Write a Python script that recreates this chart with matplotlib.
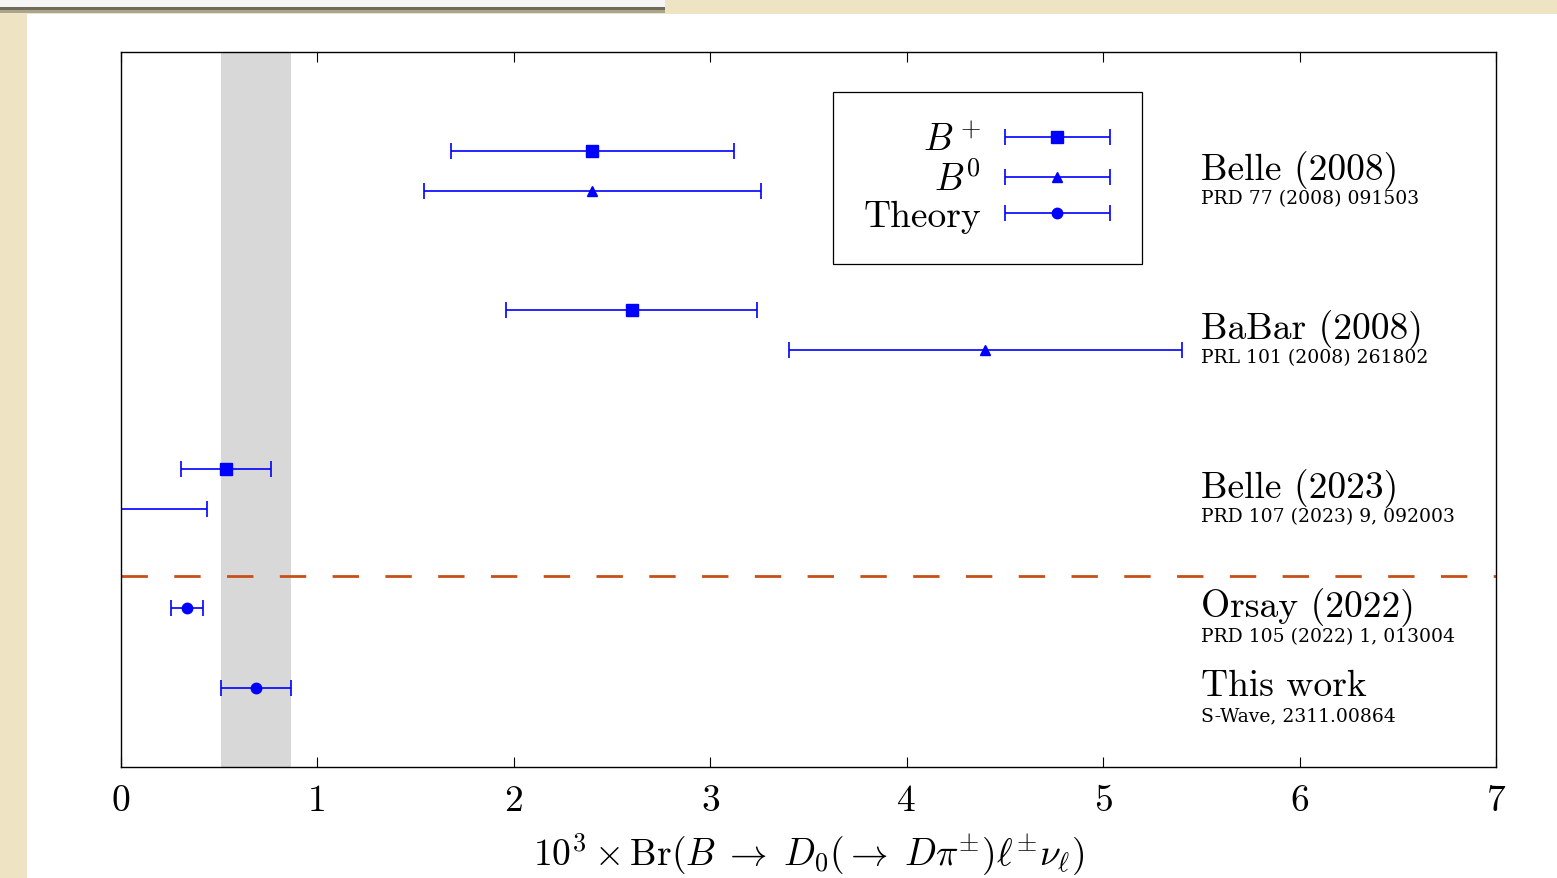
import matplotlib

matplotlib.use("Agg")
import matplotlib.pyplot as plt
from matplotlib.legend_handler import HandlerErrorbar
from matplotlib.patches import Rectangle

plt.rcParams.update({
    "font.family": "serif",
    "font.serif": ["cmr10", "DejaVu Serif"],
    "mathtext.fontset": "cm",
    "axes.formatter.use_mathtext": True,
})

# measurements, 10^3 x Br
experiments = ["Belle (2008)", "BaBar (2008)", "Belle (2023)"]
exp_refs = ["PRD 77 (2008) 091503", "PRL 101 (2008) 261802",
            "PRD 107 (2023) 9, 092003"]
bplus_val = [2.40, 2.60, 0.535]
bplus_err = [0.72, 0.64, 0.23]
bzero_val = [2.40, 4.40, -0.25]
bzero_err = [0.86, 1.00, 0.69]

theories = ["Orsay (2022)", "This work"]
theory_refs = ["PRD 105 (2022) 1, 013004", "S-Wave, 2311.00864"]
theory_val = [0.336, 0.687]
theory_err = [0.08, 0.178]

band_lo, band_hi = 0.51, 0.866
xticks = [0, 1, 2, 3, 4, 5, 6, 7]

BLUE = "#0000ff"
W, H = 1557, 879

fig = plt.figure(figsize=(W / 100, H / 100), dpi=100)
fig.patch.set_facecolor("#eee4c3")
# page + screenshot chrome
for (x0, y0, w, h, c) in [(27, 15, W, H, "white"),
                          (0, 0, 665, 8, "#f6f6f4"),
                          (0, 8, 665, 3, "#6f6b58"),
                          (0, 11, 665, 3, "#a9a58f")]:
    fig.patches.append(Rectangle((x0 / W, 1 - (y0 + h) / H), w / W, h / H,
                                 transform=fig.transFigure, facecolor=c,
                                 edgecolor="none", zorder=-5))

ax = fig.add_axes([121 / W, 1 - 768 / H, (1496 - 121) / W, (768 - 53) / H])
ax.set_zorder(2)

# row layout: each experiment occupies two rows (B+, B0)
exp_y = [2.5 + 4 * i for i in range(len(experiments))]
th_y = [14.0 + 2 * i for i in range(len(theories))]

ax.axvspan(band_lo, band_hi, color="#d8d8d8", lw=0, zorder=0)

ekw = dict(color=BLUE, ecolor=BLUE, linestyle="none", elinewidth=1.2,
           capsize=6, capthick=1.2)
ax.errorbar(bplus_val, exp_y, xerr=bplus_err, marker="s", ms=8,
            label="$B^+$", **ekw)
ax.errorbar(bzero_val, [y + 1 for y in exp_y], xerr=bzero_err, marker="^",
            ms=6.5, label="$B^0$", **ekw)
ax.errorbar(theory_val, th_y, xerr=theory_err, marker="o", ms=7.5,
            label="Theory", **ekw)

ax.axhline(13.2, color="#c84f18", lw=2.0, dashes=(9.5, 9.5))

ref_font = dict(family="DejaVu Serif", fontsize=13.5)
for name, ref, y in zip(experiments, exp_refs, exp_y):
    ax.text(5.5, y + 0.47, name, fontsize=27, va="center", ha="left")
    ax.text(5.5, y + 1.18, ref, va="center", ha="left", **ref_font)
for name, ref, y in zip(theories, theory_refs, th_y):
    ax.text(5.5, y - 0.05, name, fontsize=27, va="center", ha="left")
    ax.text(5.5, y + 0.71, ref, va="center", ha="left", **ref_font)

ax.set_xlim(0, 7)
ax.set_ylim(18, 0)
ax.set_xticks(xticks)
ax.set_xticklabels([str(t) for t in xticks])
ax.set_yticks([])
ax.tick_params(axis="x", direction="in", top=True, length=7, width=0.8,
               labelsize=27, pad=12)
for s in ax.spines.values():
    s.set_linewidth(1.0)

ax.set_xlabel(r"$10^3 \times \mathrm{Br}(B \;\to\; D_0(\to\; D\pi^{\pm})\ell^{\pm}\nu_\ell)$",
              fontsize=27, labelpad=10)

leg = ax.legend(loc="upper left", bbox_to_anchor=(833 / W, 1 - 93 / H),
                bbox_transform=fig.transFigure, markerfirst=False, fontsize=27,
                frameon=True, fancybox=False, framealpha=1, edgecolor="black",
                handlelength=2.85, handletextpad=0.6, labelspacing=0.08,
                borderpad=0.82, borderaxespad=0,
                handler_map={type(ax.containers[0]): HandlerErrorbar(xerr_size=1.4)})
leg.get_frame().set_linewidth(0.9)

fig.savefig("out.png", dpi=100, facecolor=fig.get_facecolor())
